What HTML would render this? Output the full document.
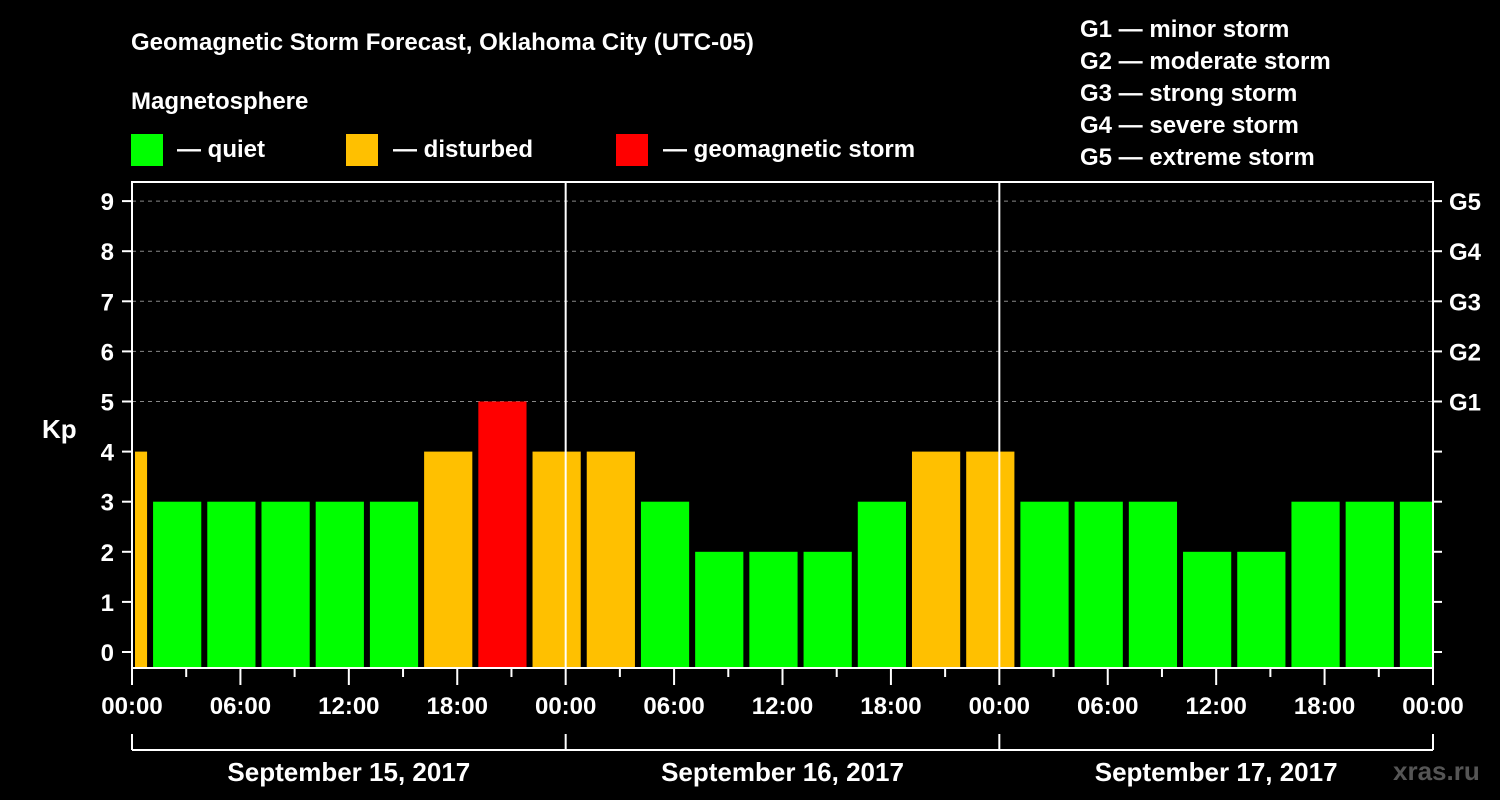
<!DOCTYPE html>
<html><head><meta charset="utf-8"><style>
body{margin:0;background:#000;}
svg{display:block;font-family:"Liberation Sans",Arial,sans-serif;font-weight:bold;}
</style></head><body>
<svg id="chart" width="1500" height="800" viewBox="0 0 1500 800">
<rect width="1500" height="800" fill="#000"/>
<text x="131" y="50" fill="#fff" font-size="24">Geomagnetic Storm Forecast, Oklahoma City (UTC-05)</text>
<text x="131" y="109" fill="#fff" font-size="24">Magnetosphere</text>
<g><rect x="131" y="134" width="32" height="32" fill="#00ff00"/><text x="177" y="157" fill="#fff" font-size="24">— quiet</text></g>
<g><rect x="346" y="134" width="32" height="32" fill="#ffc000"/><text x="393" y="157" fill="#fff" font-size="24">— disturbed</text></g>
<g><rect x="616" y="134" width="32" height="32" fill="#ff0000"/><text x="663" y="157" fill="#fff" font-size="24">— geomagnetic storm</text></g>
<g fill="#fff" font-size="24">
<text x="1080" y="37">G1 — minor storm</text><text x="1080" y="69">G2 — moderate storm</text><text x="1080" y="101">G3 — strong storm</text><text x="1080" y="133">G4 — severe storm</text><text x="1080" y="165">G5 — extreme storm</text>
</g>
<text x="42" y="438" fill="#fff" font-size="26">Kp</text>
<g id="grid"></g><g id="bars"></g><g id="axes"></g>
<text x="1393" y="780" fill="#555" font-size="26">xras.ru</text>
</svg>
<script>
const values = [4, 3,3,3,3,3,4,5,4, 4,3,2,2,2,3,4,4, 3,3,3,2,2,3,3,3];
const binStartHours = [0, 1,4,7,10,13,16,19,22, 25,28,31,34,37,40,43,46, 49,52,55,58,61,64,67,70];
const binEndHours = [1, 4,7,10,13,16,19,22,25, 28,31,34,37,40,43,46,49, 52,55,58,61,64,67,70,72];
const yTicks = [0,1,2,3,4,5,6,7,8,9];
const gLabels = ["G1","G2","G3","G4","G5"];
const xTickLabels = ["00:00","06:00","12:00","18:00","00:00","06:00","12:00","18:00","00:00","06:00","12:00","18:00","00:00"];
const dayLabels = ["September 15, 2017","September 16, 2017","September 17, 2017"];

const NS="http://www.w3.org/2000/svg";
const X0=132,X1=1433,Y0=652,PU=50.1,TOP=182,BOT=668;
const x=h=>X0+(X1-X0)*h/72;
const y=v=>Y0-PU*v;
function mk(tag,attrs,parent,text){const e=document.createElementNS(NS,tag);for(const k in attrs)e.setAttribute(k,attrs[k]);if(text!==undefined)e.textContent=text;document.getElementById(parent).appendChild(e);return e;}
const color=v=>v>=5?"#ff0000":v>=4?"#ffc000":"#00ff00";

yTicks.forEach(v=>{
  if(v>=5){const l=mk("line",{x1:X0,x2:X1,y1:y(v),y2:y(v),stroke:"#888","stroke-width":1,"stroke-dasharray":"4,4"},"grid");
  
  }
});
values.forEach((v,i)=>{
  const a=x(binStartHours[i])+(i===0?3:3),b=x(binEndHours[i])-(i===values.length-1?1:3);
  const r=mk("rect",{x:a,y:y(v),width:b-a,height:BOT-y(v),fill:color(v)},"bars");
  
  
});
// frame
const f=mk("rect",{x:X0,y:TOP,width:X1-X0,height:BOT-TOP,fill:"none",stroke:"#fff","stroke-width":2},"axes");


[24,48].forEach(h=>{const l=mk("line",{x1:x(h),x2:x(h),y1:TOP,y2:BOT,stroke:"#fff","stroke-width":2},"axes");

});
yTicks.forEach(v=>{
  mk("line",{x1:122,x2:X0,y1:y(v),y2:y(v),stroke:"#fff","stroke-width":2},"axes");
  mk("line",{x1:X1,x2:1442,y1:y(v),y2:y(v),stroke:"#fff","stroke-width":2},"axes");
  const t=mk("text",{x:114,y:y(v)+9,fill:"#fff","font-size":24,"text-anchor":"end"},"axes",String(v));
  
  
});
gLabels.forEach((g,i)=>{
  const t=mk("text",{x:1449,y:y(5+i)+9,fill:"#fff","font-size":24},"axes",g);
  
  
});
for(let h=0;h<=72;h+=3){
  const major=h%6===0;
  mk("line",{x1:x(h),x2:x(h),y1:BOT,y2:major?685:677,stroke:"#fff","stroke-width":2},"axes");
}
xTickLabels.forEach((s,i)=>{
  const t=mk("text",{x:x(i*6),y:714,fill:"#fff","font-size":24,"text-anchor":"middle"},"axes",s);
  
  
});
mk("line",{x1:x(0),x2:x(72),y1:750,y2:750,stroke:"#fff","stroke-width":2},"axes");
[0,24,48,72].forEach(h=>mk("line",{x1:x(h),x2:x(h),y1:734,y2:750,stroke:"#fff","stroke-width":2},"axes"));
dayLabels.forEach((s,i)=>{
  const t=mk("text",{x:x(i*24+12),y:781,fill:"#fff","font-size":26,"text-anchor":"middle"},"axes",s);
  
  
});
</script>
</body></html>
